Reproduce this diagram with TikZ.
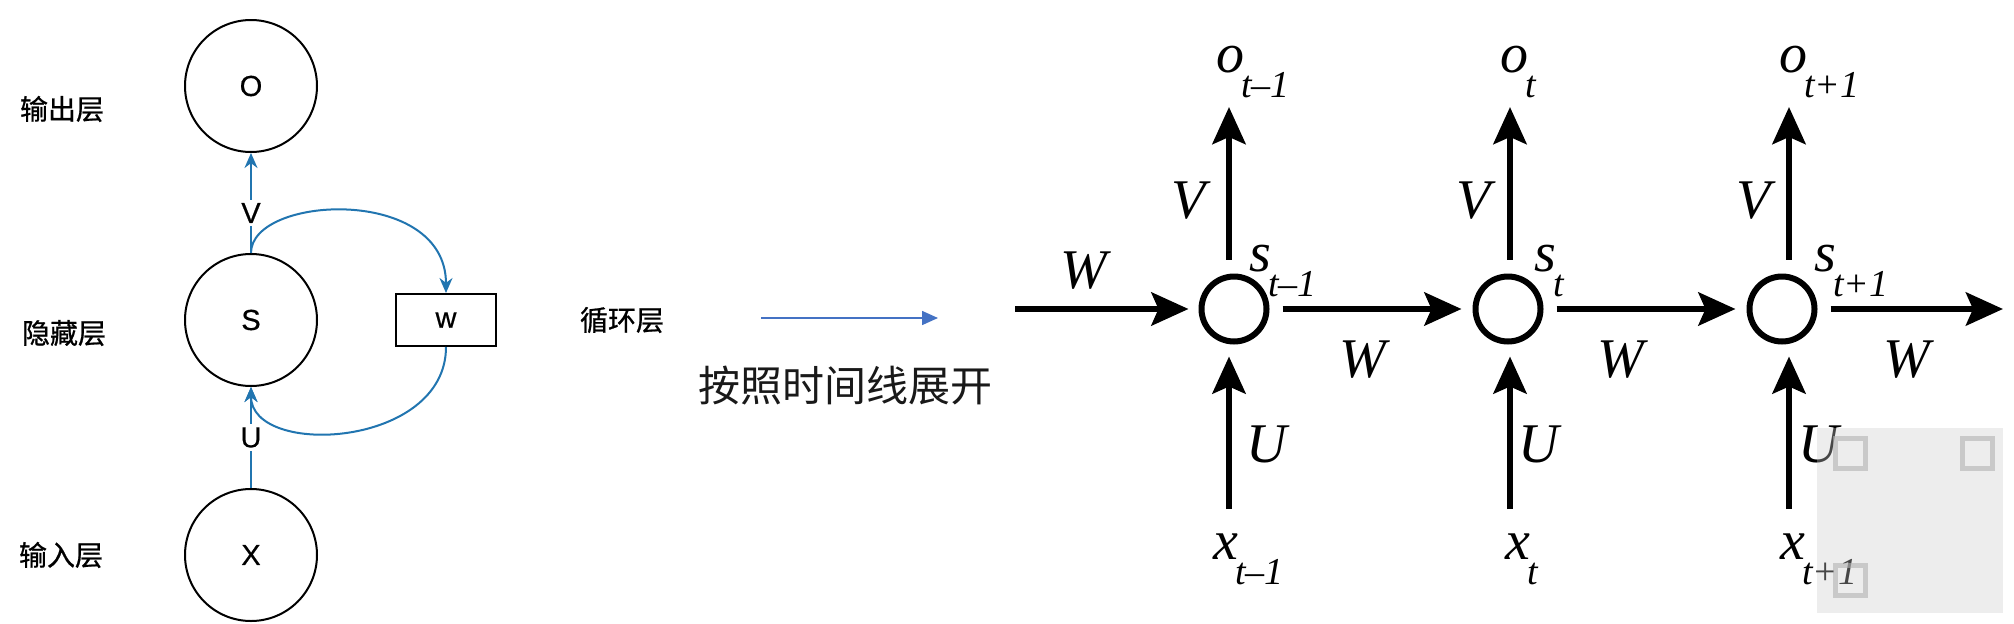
\documentclass[tikz,border=0pt]{standalone}
\usepackage{fontspec}
\setmainfont{Liberation Serif}
\newfontfamily\cjk{Noto Sans CJK SC}
\newfontfamily\cjkm[FakeBold=0.8]{Noto Sans CJK SC}
\newfontfamily\lsans[FakeBold=0.6]{Liberation Sans}
\usetikzlibrary{arrows.meta}
\definecolor{lblue}{RGB}{33,117,176}
\definecolor{mblue}{RGB}{68,114,196}
\newcommand{\lblsub}[2]{\fontsize{56}{56}\selectfont\itshape #1\kern-3pt\raisebox{-25pt}{\fontsize{38}{38}\selectfont #2}}
\begin{document}
\begin{tikzpicture}[x=1pt,y=-1pt,
  layer/.style={circle,draw=black,line width=2pt,minimum size=132pt,inner sep=0pt,font=\lsans\fontsize{29}{29}\selectfont},
  cnlbl/.style={font=\cjkm\fontsize{28}{28}\selectfont},
  barrow/.style={draw=lblue,line width=2pt,-{Stealth[length=15pt,width=13pt]}},
  cell/.style={circle,draw=black,line width=6pt,minimum size=65pt,inner sep=0pt,outer sep=0pt},
  karrow/.style={line width=6.5pt,-{Stealth[length=37pt,width=33pt,inset=7pt]}},
  bigit/.style={font=\fontsize{56}{56}\selectfont\itshape,inner sep=0pt},
  sublbl/.style={anchor=base west,inner sep=0pt}
]
\useasboundingbox (0,0) rectangle (2014,624);
\fill[white] (0,0) rectangle (2014,624);

% ---- left: folded RNN ----
\node[layer] (O) at (251,86) {O};
\node[layer] (S) at (251,320) {S};
\node[layer] (X) at (251,555) {X};
\node[draw=black,line width=2pt,minimum width=100pt,minimum height=52pt,inner sep=0pt,font=\lsans\fontsize{29}{29}\selectfont] (w) at (446,320) {w};

\node[cnlbl] (lo) at (62,109) {输出层};
\node[cnlbl] (ls) at (64,333) {隐藏层};
\node[cnlbl] (lx) at (61,555) {输入层};
\node[cnlbl] (lw) at (622,320) {循环层};

\draw[barrow] (S.north) -- node[pos=0.4,fill=white,inner sep=3pt,font=\lsans\fontsize{29}{29}\selectfont] (V) {V} (O.south);
\draw[barrow] (X.north) -- node[pos=0.5,fill=white,inner sep=3pt,font=\lsans\fontsize{29}{29}\selectfont] (U) {U} (S.south);
\draw[barrow] (S.north) .. controls (251,195) and (446,185) .. (w.north);
\draw[barrow] (w.south) .. controls (446,448) and (251,458) .. (S.south);

% ---- middle ----
\coordinate (ma) at (761,318);
\coordinate (mb) at (938,318);
\draw[draw=mblue,line width=1.6pt,-{Triangle[length=16pt,width=14pt]}] (ma) -- (mb);
\node[font=\cjk\fontsize{42}{42}\selectfont,text=black!90] (unroll) at (845,386) {按照时间线展开};

% ---- right: unrolled RNN ----
\node[cell] (c1) at (1234,309) {};
\node[cell] (c2) at (1508,309) {};
\node[cell] (c3) at (1782,309) {};

\coordinate (w0) at (1015,309);
\coordinate (w3) at (2003,309);
\draw[karrow,shorten >=13pt] (w0) -- (c1);
\draw[karrow,shorten <=16pt,shorten >=14pt] (c1) -- (c2);
\draw[karrow,shorten <=16pt,shorten >=14pt] (c2) -- (c3);
\draw[karrow,shorten <=16pt] (c3) -- (w3);

\foreach \i/\xx in {1/1229,2/1510,3/1789}{
  \coordinate (ot\i) at (\xx,107);
  \coordinate (xb\i) at (\xx,509);
}
\draw[karrow,shorten <=17pt] (c1.north -| ot1) -- (ot1);
\draw[karrow,shorten <=17pt] (c2.north -| ot2) -- (ot2);
\draw[karrow,shorten <=17pt] (c3.north -| ot3) -- (ot3);
\draw[karrow,shorten >=15pt] (xb1) -- (c1.south -| xb1);
\draw[karrow,shorten >=15pt] (xb2) -- (c2.south -| xb2);
\draw[karrow,shorten >=15pt] (xb3) -- (c3.south -| xb3);

% labels
\node[sublbl] (o1) at (1216,72) {\lblsub{o}{t–1}};
\node[sublbl] (o2) at (1500,72) {\lblsub{o}{t}};
\node[sublbl] (o3) at (1779,72) {\lblsub{o}{t+1}};
\node[sublbl] (s1) at (1249,271) {\lblsub{s}{t–1}};
\node[sublbl] (s2) at (1534,271) {\lblsub{s}{t}};
\node[sublbl] (s3) at (1814,271) {\lblsub{s}{t+1}};
\node[sublbl] (x1) at (1213,559) {\lblsub{x}{t–1}};
\node[sublbl] (x2) at (1505,559) {\lblsub{x}{t}};
\node[sublbl] (x3) at (1780,559) {\lblsub{x}{t+1}};

\node[bigit] (V1) at (1189,201) {V};
\node[bigit] (V2) at (1474,201) {V};
\node[bigit] (V3) at (1754,201) {V};
\node[bigit] (U1) at (1267,444) {U};
\node[bigit] (U2) at (1539,444) {U};
\node[bigit] (U3) at (1819,444) {U};
\node[bigit] (W0) at (1084,271) {W};
\node[bigit] (W1) at (1363,360) {W};
\node[bigit] (W2) at (1621,360) {W};
\node[bigit] (W3) at (1907,360) {W};

% watermark box
\fill[gray!40,opacity=0.35] (1817,428) rectangle (2003,613);
\foreach \px/\py in {1835/438,1962/438,1835/565}{
  \draw[gray!60,opacity=0.6,line width=5pt] (\px,\py) rectangle ++(30,30);
}
\end{tikzpicture}
\end{document}
